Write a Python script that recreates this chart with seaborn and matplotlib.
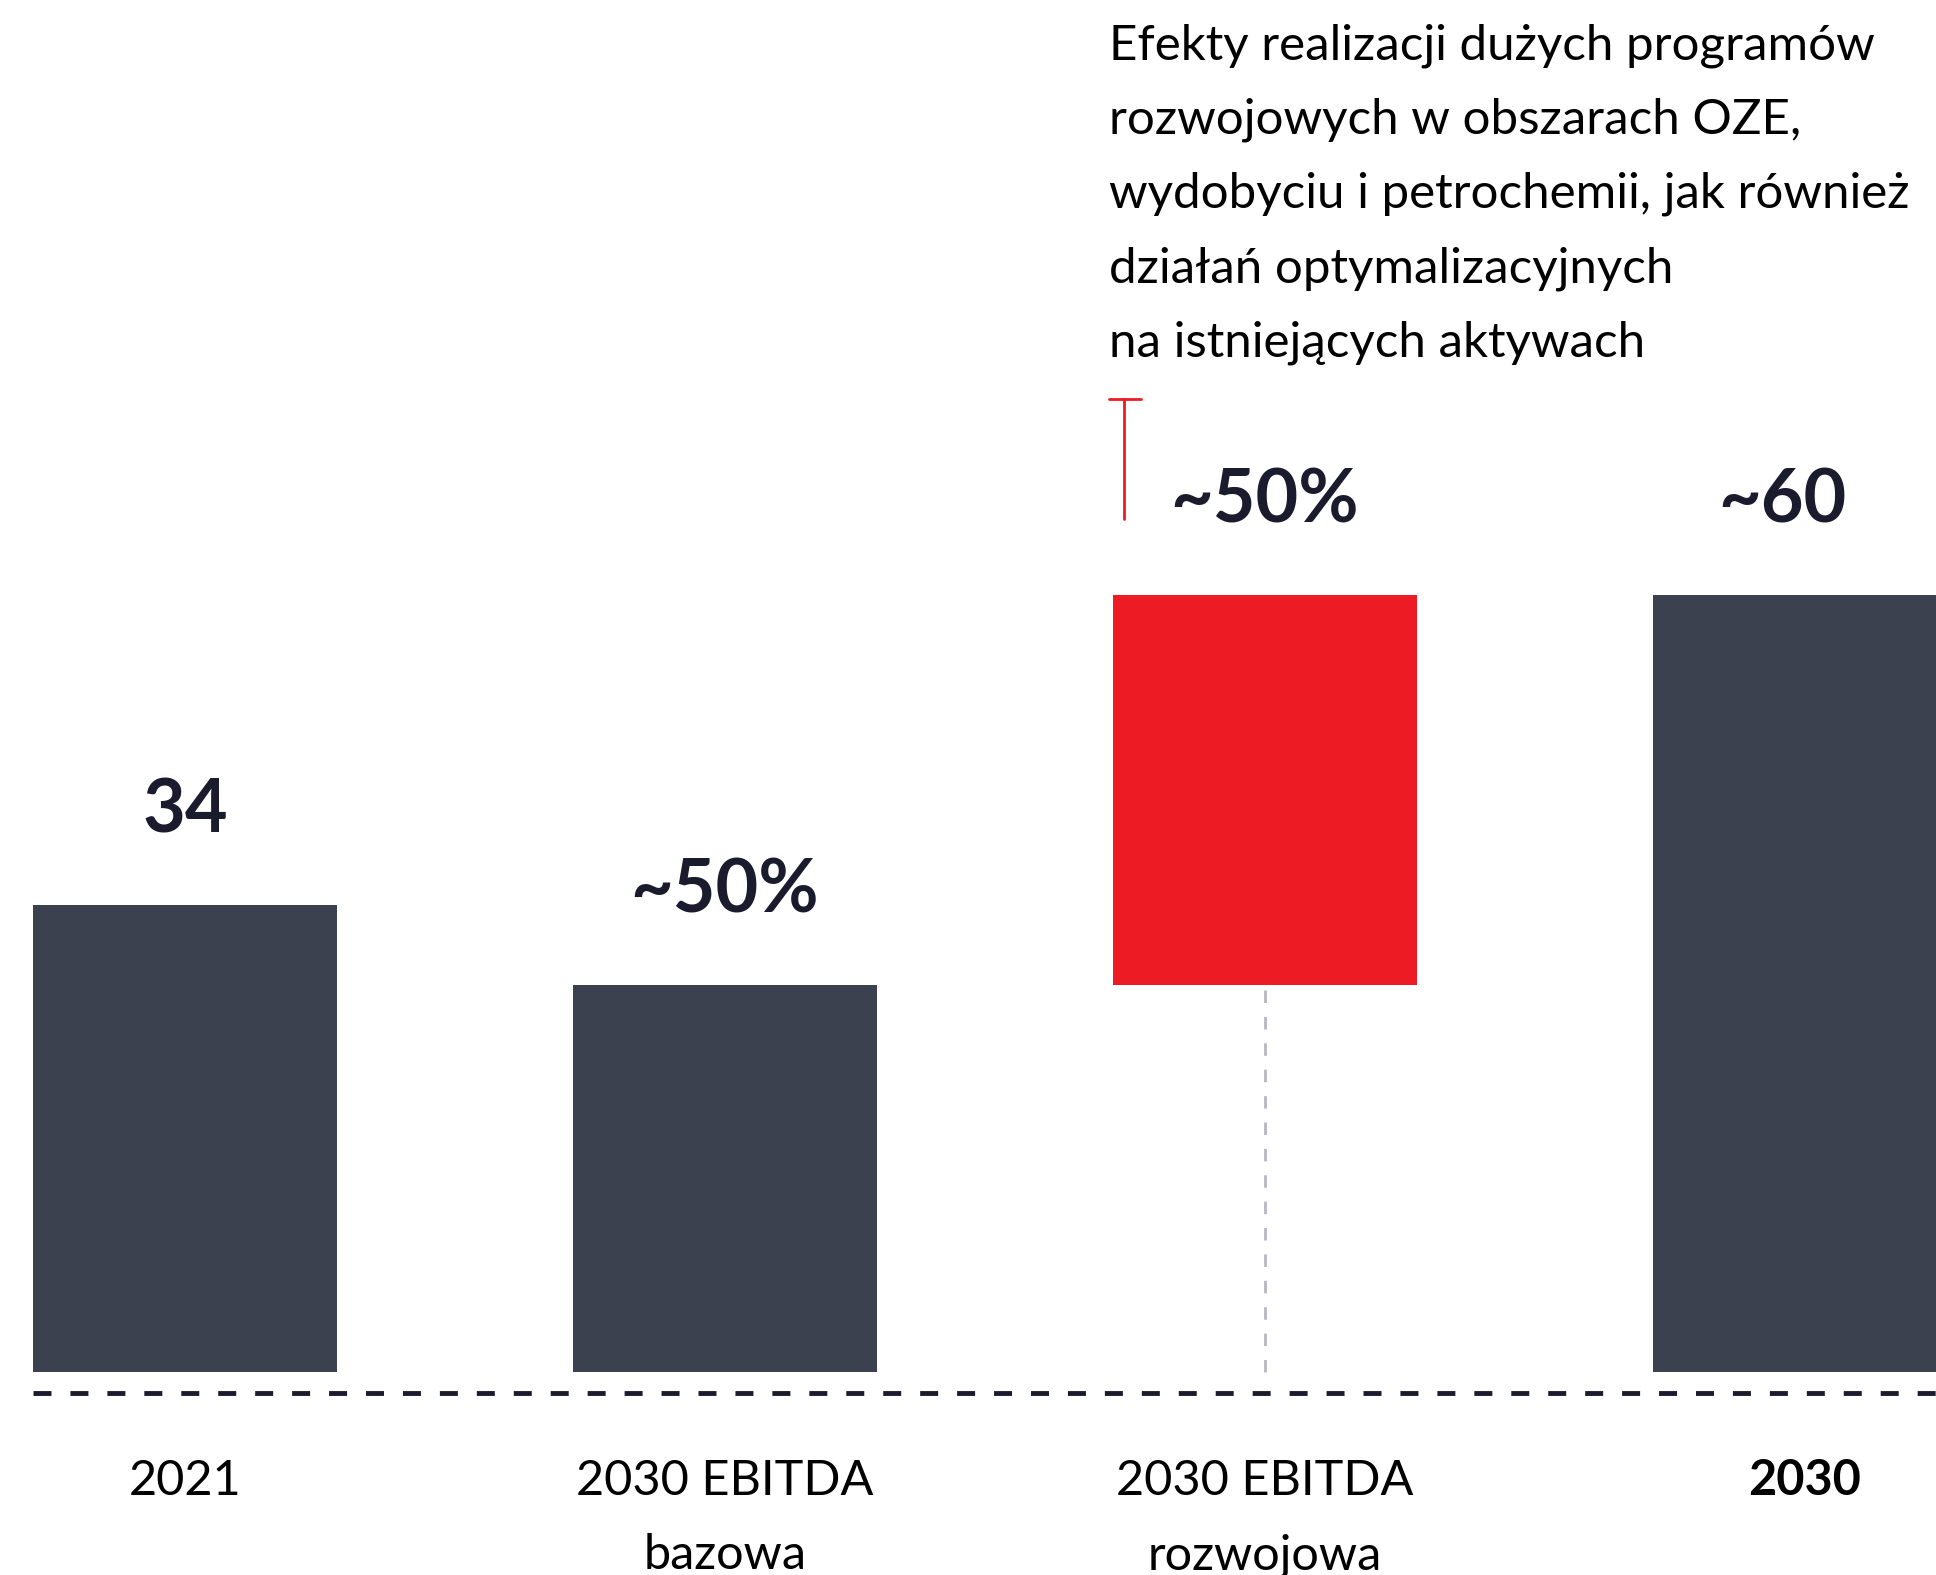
import pandas as pd
import seaborn as sns
import matplotlib.pyplot as plt
from matplotlib.lines import Line2D

# waterfall: 2021 -> 2030 EBITDA (base + development) -> 2030
categories = ["2021", "2030 EBITDA\nbazowa", "2030 EBITDA\nrozwojowa", "2030"]
heights = [34, 28.2, 28.4, 56.6]
bottoms = [0, 0, 28.2, 0]
value_labels = ["34", "~50%", "~50%", "~60"]
bold_category = [False, False, False, True]
note_lines = [
    "Efekty realizacji dużych programów",
    "rozwojowych w obszarach OZE,",
    "wydobyciu i petrochemii, jak również",
    "działań optymalizacyjnych",
    "na istniejących aktywach",
]

DARK = "#3b414f"
RED = "#ed1c24"
NAVY = "#1b1b2e"
GREY = "#b5b7c4"

W, H = 1936, 1575
sns.set_theme(style="white")
plt.rcParams["font.family"] = ["Lato", "DejaVu Sans"]

df = pd.DataFrame({"category": categories, "height": heights, "bottom": bottoms})
dark = df[df["bottom"] == 0]
red = df[df["bottom"] > 0]

fig = plt.figure(figsize=(W / 100, H / 100), dpi=100)
ax = fig.add_axes([0, 0, 1, 1])

bar_w = 304 / 540
sns.barplot(data=dark, x="category", y="height", order=categories, color=DARK,
            width=bar_w, saturation=1, errorbar=None, linewidth=0, ax=ax)
sns.barplot(data=red, x="category", y="height", order=categories, color=RED,
            width=bar_w, saturation=1, errorbar=None, linewidth=0,
            bottom=float(red["bottom"].iloc[0]), ax=ax)

# pixel layout: category spacing 540 px, first centre at 185 px, zero at 1372 px
px_per_unit = 467 / heights[0]
ax.set_xlim(-185 / 540, (W - 185) / 540)
ax.set_ylim(-(H - 1372) / px_per_unit, 1372 / px_per_unit)
ax.axis("off")

# grey connector under the red bar
i_red = red.index[0]
ax.vlines(i_red, 0, red["bottom"].iloc[0], colors=GREY, linewidth=2,
          linestyles=(0, (4.5, 5)), zorder=0)

# value labels above bars (last one nudged left to stay on the page)
label_dx = {3: -16}
for i, (h, b, lab) in enumerate(zip(heights, bottoms, value_labels)):
    ax.annotate(lab, xy=(i, h + b), xytext=(label_dx.get(i, 0), 52),
                textcoords="offset points", ha="center", va="baseline",
                fontsize=53, fontweight="bold", color=NAVY)

# category labels below the dashed baseline
for i, (cat, bold) in enumerate(zip(categories, bold_category)):
    for k, line in enumerate(cat.split("\n")):
        y_px = 1495 + 74 * k
        t = ax.text(i, 0, line, transform=ax.get_xaxis_transform(), ha="center",
                    va="baseline", fontsize=35, color="black",
                    fontweight="bold" if bold else "normal")
        t.set_y(1 - y_px / H)

# dashed baseline
fig.add_artist(Line2D([33 / W, 1], [1 - 1393 / H] * 2, transform=fig.transFigure,
                      color=NAVY, linewidth=3.5, linestyle=(0, (3.7, 3.9))))

# red bracket marking the development increment
fig.add_artist(Line2D([1124 / W, 1124 / W], [1 - 399 / H, 1 - 519 / H],
                      transform=fig.transFigure, color=RED, linewidth=2))
fig.add_artist(Line2D([1109 / W, 1141 / W], [1 - 399 / H] * 2,
                      transform=fig.transFigure, color=RED, linewidth=2))

# explanatory note
for k, line in enumerate(note_lines):
    fig.text(1109 / W, 1 - (59 + 74.4 * k) / H, line, ha="left", va="baseline",
             fontsize=35.5, color="black")

fig.savefig("out.png", dpi=100)
